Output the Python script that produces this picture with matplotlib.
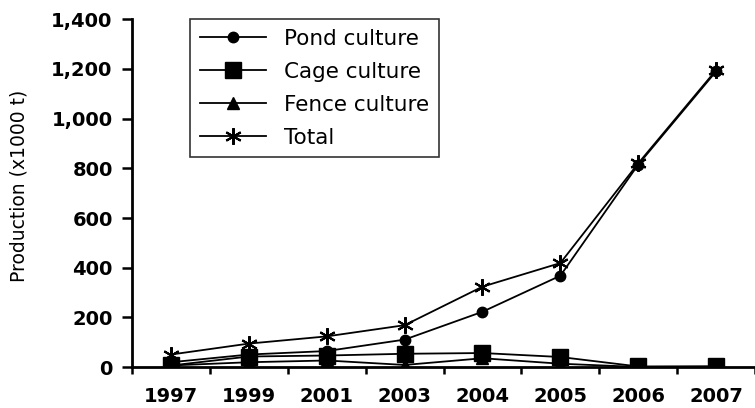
import numpy as np
import matplotlib.pyplot as plt

plt.rcParams['font.family'] = ['DejaVu Sans']

# Données
years = ['1997', '1999', '2001', '2003', '2004', '2005', '2006', '2007']
pond = [20, 51, 65, 111, 223, 368, 815, 1190]
cage = [7, 43, 47, 54, 57, 41, 3, 4]
fence = [7, 20, 27, 9, 36, 14, 1, 1]
total = [51, 95, 124, 169, 324, 419, 820, 1195]
yticks = [0, 200, 400, 600, 800, 1000, 1200, 1400]

x = np.arange(len(years))

fig = plt.figure(figsize=(7.55, 4.08), dpi=100)
ax = fig.add_axes([0.175, 0.1, 0.825, 0.853])

ax.plot(x, pond, color='black', lw=1.3, marker='o', ms=7.5, label='Pond culture')
ax.plot(x, cage, color='black', lw=1.3, marker='s', ms=11, label='Cage culture')
ax.plot(x, fence, color='black', lw=1.3, marker='^', ms=8, label='Fence culture')
ax.plot(x, total, color='black', lw=1.3, marker=(6, 2, 0), ms=12, mew=1.5, label='Total')

ax.set_xlim(-0.5, len(years) - 0.5)
ax.set_ylim(0, 1400)

# graduations aux frontières des catégories, étiquettes au centre
ax.set_xticks(np.arange(len(years) + 1) - 0.5)
ax.set_xticklabels([])
ax.set_xticks(x, minor=True)
ax.set_xticklabels(years, minor=True, fontsize=14, fontweight='bold')
ax.tick_params(axis='x', which='minor', length=0, pad=14)
ax.tick_params(axis='x', which='major', length=5, width=1.8, direction='out')

ax.set_yticks(yticks)
ax.set_yticklabels(['{:,}'.format(v) for v in yticks], fontsize=14, fontweight='bold')
ax.tick_params(axis='y', length=7, width=1.8, direction='out', pad=7)

ax.spines['top'].set_visible(False)
ax.spines['right'].set_visible(False)
ax.spines['left'].set_linewidth(2)
ax.spines['bottom'].set_linewidth(2)

ax.set_ylabel('Production (x1000 t)', fontsize=13.5)
ax.yaxis.set_label_coords(-0.167, 0.52)

leg = ax.legend(loc='upper left', bbox_to_anchor=(0.093, 1.0), fontsize=15.5,
                frameon=True, fancybox=False, edgecolor='black', borderaxespad=0,
                handlelength=3.1, handletextpad=0.8, borderpad=0.45, labelspacing=0.6)
leg.get_frame().set_linewidth(1.2)

plt.savefig('out.png', dpi=100)
